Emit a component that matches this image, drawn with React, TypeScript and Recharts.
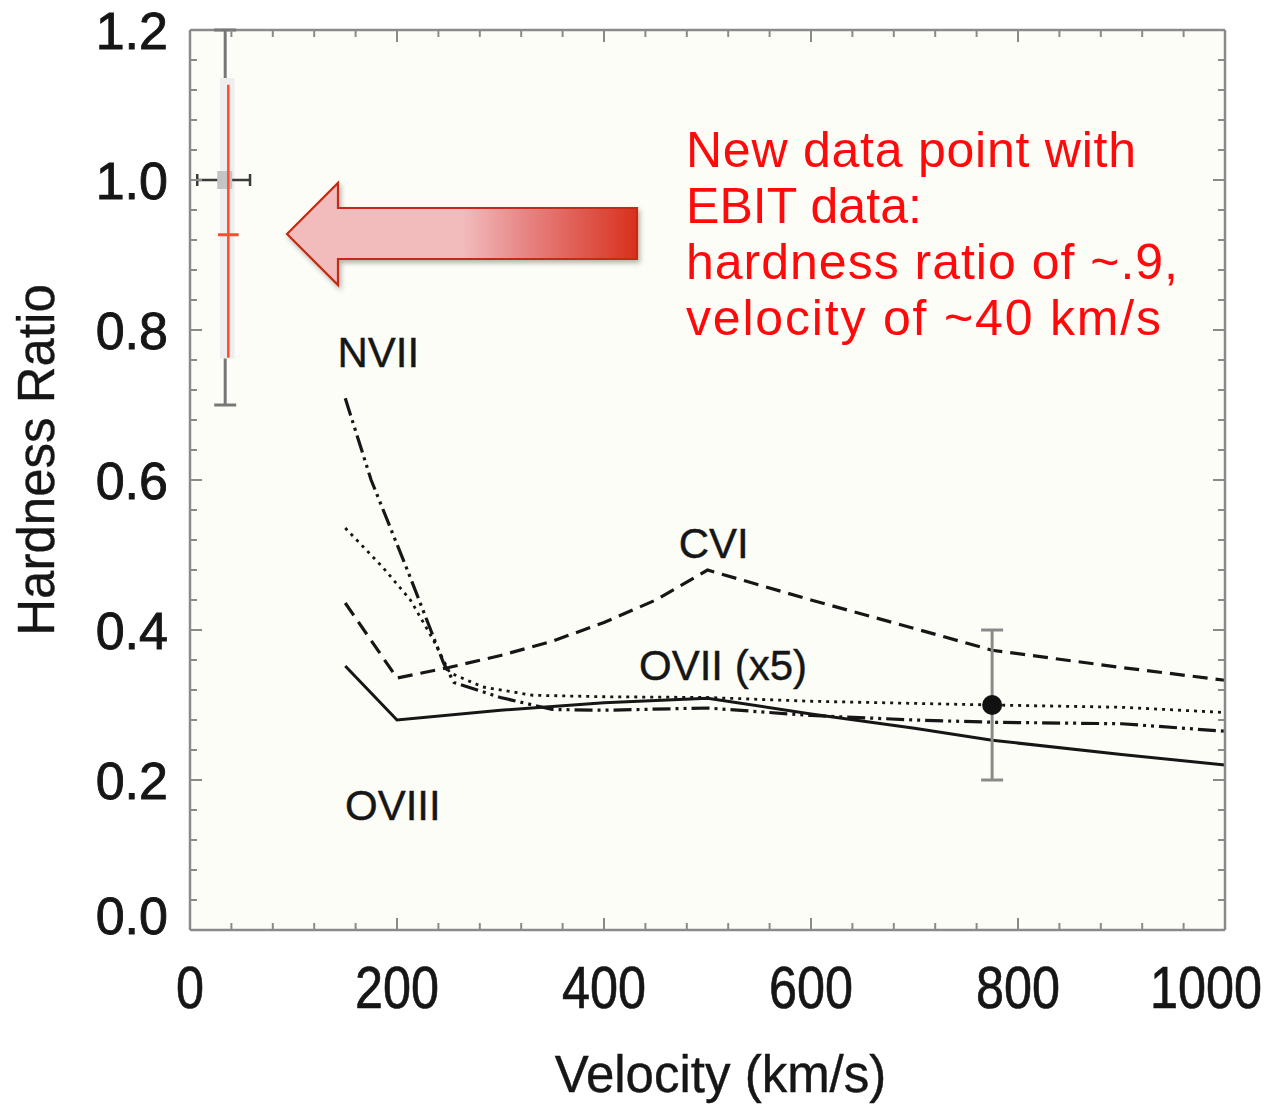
import React from 'react';
import {
  ComposedChart,
  Line,
  Scatter,
  ErrorBar,
  XAxis,
  YAxis,
  ReferenceArea,
  ReferenceDot,
  CartesianGrid,
} from 'recharts';

// ---------- data ----------
const oviii = [
  { v: 150, y: 0.352 }, { v: 200, y: 0.28 }, { v: 300, y: 0.293 }, { v: 400, y: 0.303 },
  { v: 500, y: 0.309 }, { v: 600, y: 0.288 }, { v: 700, y: 0.269 }, { v: 775, y: 0.253 },
  { v: 900, y: 0.234 }, { v: 1000, y: 0.22 },
];
const cvi = [
  { v: 150, y: 0.436 }, { v: 200, y: 0.336 }, { v: 250, y: 0.35 }, { v: 300, y: 0.366 },
  { v: 350, y: 0.385 }, { v: 400, y: 0.41 }, { v: 450, y: 0.44 }, { v: 500, y: 0.48 },
  { v: 600, y: 0.44 }, { v: 700, y: 0.402 }, { v: 775, y: 0.373 }, { v: 900, y: 0.35 },
  { v: 1000, y: 0.333 },
];
const nvii = [
  { v: 150, y: 0.709 }, { v: 175, y: 0.6 }, { v: 210, y: 0.48 }, { v: 245, y: 0.356 },
  { v: 255, y: 0.33 }, { v: 300, y: 0.31 }, { v: 350, y: 0.294 }, { v: 400, y: 0.293 },
  { v: 500, y: 0.296 }, { v: 600, y: 0.286 }, { v: 700, y: 0.28 }, { v: 775, y: 0.277 },
  { v: 900, y: 0.275 }, { v: 1000, y: 0.265 },
];
const ovii = [
  { v: 150, y: 0.536 }, { v: 186, y: 0.484 }, { v: 213, y: 0.44 }, { v: 235, y: 0.387 },
  { v: 251, y: 0.343 }, { v: 283, y: 0.324 }, { v: 331, y: 0.313 }, { v: 400, y: 0.311 },
  { v: 500, y: 0.31 }, { v: 600, y: 0.305 }, { v: 775, y: 0.3 }, { v: 900, y: 0.297 },
  { v: 1000, y: 0.29 },
];
const measured = [{ v: 775, y: 0.3, ey: 0.1 }];
const oldPoint = [{ v: 34, y: 1.0, ey: [0.3, 0.2], ex: [27, 24] }];
const ebitPoint = [{ v: 37, y: 0.927, ey: [0.164, 0.2], ex: [10, 10] }];
const highlight = { x1: 29, x2: 43, y1: 0.762, y2: 1.136 };

const xTicks = [0, 40, 80, 120, 160, 200, 240, 280, 320, 360, 400, 440, 480, 520, 560, 600,
  640, 680, 720, 760, 800, 840, 880, 920, 960, 1000];
const xMajor = [0, 200, 400, 600, 800, 1000];
const xLabels = ['0', '200', '400', '600', '800', '1000'];
const yTicks = [0, 0.04, 0.08, 0.12, 0.16, 0.2, 0.24, 0.28, 0.32, 0.36, 0.4, 0.44, 0.48, 0.52,
  0.56, 0.6, 0.64, 0.68, 0.72, 0.76, 0.8, 0.84, 0.88, 0.92, 0.96, 1.0, 1.04, 1.08, 1.12, 1.16, 1.2];
const yMajor = [0, 0.2, 0.4, 0.6, 0.8, 1.0, 1.2];
const yLabels = ['0.0', '0.2', '0.4', '0.6', '0.8', '1.0', '1.2'];

const seriesLabels = [
  { text: 'NVII', v: 182, y: 0.771 },
  { text: 'CVI', v: 506, y: 0.516 },
  { text: 'OVII (x5)', v: 515, y: 0.353 },
  { text: 'OVIII', v: 196, y: 0.167 },
];
const noteLines = [
  { text: 'New data point with', width: 450 },
  { text: 'EBIT data:', width: 236 },
  { text: 'hardness ratio of ~.9,', width: 492 },
  { text: 'velocity of ~40 km/s', width: 475 },
];

// ---------- styles ----------
const FONT = '"Liberation Sans", Arial, Helvetica, sans-serif';
const FRAME = '#8a8a8a';
const INK = '#161616';
const z = (n: number) => ({ zIndex: n } as any);

const majorIndex = (v: number, majors: number[]) =>
  majors.findIndex((m) => Math.abs(m - v) < 1e-6);

const BottomTick = (props: any) => {
  const { x, y, payload } = props;
  const idx = majorIndex(payload.value, xMajor);
  const major = idx >= 0;
  const dx = payload.value === 1000 ? -19 : 0;
  return (
    <g>
      <line x1={x} y1={y} x2={x} y2={y - (major ? 12 : 7)} stroke={FRAME} strokeWidth={2} />
      {major && (
        <g transform={`translate(${x + dx},${y + 78}) scale(0.84,1)`}>
          <text textAnchor="middle" fontSize={60} fontFamily={FONT} fill={INK}
            stroke={INK} strokeWidth={0.7}>
            {xLabels[idx]}
          </text>
        </g>
      )}
    </g>
  );
};

const TopTick = (props: any) => {
  const { x, y, payload } = props;
  const major = majorIndex(payload.value, xMajor) >= 0;
  return <line x1={x} y1={y} x2={x} y2={y + (major ? 12 : 7)} stroke={FRAME} strokeWidth={2} />;
};

const LeftTick = (props: any) => {
  const { x, y, payload } = props;
  const idx = majorIndex(payload.value, yMajor);
  const major = idx >= 0;
  const dy = payload.value === 0 ? -15 : 0;
  return (
    <g>
      <line x1={x} y1={y} x2={x + (major ? 12 : 7)} y2={y} stroke={FRAME} strokeWidth={2} />
      {major && (
        <text x={x - 22} y={y + dy + 19} textAnchor="end" fontSize={52} fontFamily={FONT} fill={INK}
          stroke={INK} strokeWidth={0.9}>
          {yLabels[idx]}
        </text>
      )}
    </g>
  );
};

const RightTick = (props: any) => {
  const { x, y, payload } = props;
  const major = majorIndex(payload.value, yMajor) >= 0;
  return <line x1={x} y1={y} x2={x - (major ? 12 : 7)} y2={y} stroke={FRAME} strokeWidth={2} />;
};

const XTitle = (props: any) => {
  const vb = props.viewBox || { x: 190, y: 930, width: 1035, height: 174 };
  return (
    <text x={vb.x + vb.width / 2 + 13} y={1092} textAnchor="middle" fontSize={51} fontFamily={FONT} fill={INK}
      stroke={INK} strokeWidth={0.4}>
      Velocity (km/s)
    </text>
  );
};

const YTitle = (props: any) => {
  const vb = props.viewBox || { x: 0, y: 30, width: 190, height: 900 };
  const cy = vb.y + vb.height / 2 - 20;
  return (
    <text
      x={54}
      y={cy}
      transform={`rotate(-90, 54, ${cy})`}
      textAnchor="middle"
      fontSize={51}
      fontFamily={FONT}
      fill={INK}
      stroke={INK}
      strokeWidth={0.4}
    >
      Hardness Ratio
    </text>
  );
};

const BlackDot = (p: any) => <circle cx={p.cx} cy={p.cy} r={10} fill="#111" />;
const GrayBox = (p: any) => (
  <rect x={p.cx - 8} y={p.cy - 9} width={15} height={18} fill="#c4c4c4" />
);
const NoShape = () => <g />;

const SeriesLabel = (props: any) => {
  const { viewBox, value } = props;
  const cx = viewBox ? viewBox.x + (viewBox.width || 0) / 2 : 0;
  const cy = viewBox ? viewBox.y + (viewBox.height || 0) / 2 : 0;
  return (
    <text x={cx} y={cy + 15} textAnchor="middle" fontSize={42} fontFamily={FONT} fill={INK}
      stroke={INK} strokeWidth={0.4}>
      {value}
    </text>
  );
};

const Annotation = () => (
  <svg
    width={1268}
    height={1104}
    style={{ position: 'absolute', left: 0, top: 0, pointerEvents: 'none' }}
  >
    <defs>
      <linearGradient id="arrowFill" x1="287" y1="0" x2="637" y2="0" gradientUnits="userSpaceOnUse">
        <stop offset="0" stopColor="#f2bcbc" />
        <stop offset="0.5" stopColor="#f2bcbc" />
        <stop offset="0.68" stopColor="#e78585" />
        <stop offset="1" stopColor="#d8301c" />
      </linearGradient>
      <filter id="shadow" x="-10%" y="-20%" width="130%" height="150%">
        <feDropShadow dx="2" dy="3" stdDeviation="2.5" floodColor="#000" floodOpacity="0.3" />
      </filter>
    </defs>
    <path
      d="M287,234 L338,183 L338,208 L637,208 L637,259 L338,259 L338,285 Z"
      fill="url(#arrowFill)"
      stroke="#c42a12"
      strokeWidth={2.2}
      strokeLinejoin="miter"
      filter="url(#shadow)"
    />
    {noteLines.map((t, i) => (
      <text key={i} x={686} y={167 + i * 56} fontSize={50} fontFamily={FONT} fill="#ff0a0a"
        textLength={t.width} lengthAdjust="spacing">
        {t.text}
      </text>
    ))}
  </svg>
);

export default function App() {
  return (
    <div style={{ position: 'absolute', left: 0, top: 0, width: 1268, height: 1104, background: '#fff' }}>
      <ComposedChart width={1268} height={1104} margin={{ top: 29, right: 42, bottom: 0, left: 0 }}>
        <CartesianGrid fill="#fdfdf8" horizontal={false} vertical={false} stroke="none" />
        <XAxis
          xAxisId={0}
          dataKey="v"
          type="number"
          domain={[0, 1000]}
          ticks={xTicks}
          interval={0}
          height={174}
          tickSize={0}
          tickMargin={0}
          tick={<BottomTick />}
          axisLine={{ stroke: FRAME, strokeWidth: 2.5 }}
          allowDataOverflow
          label={<XTitle />}
        />
        <XAxis
          xAxisId="top"
          orientation="top"
          dataKey="v"
          type="number"
          domain={[0, 1000]}
          ticks={xTicks}
          interval={0}
          height={1}
          tickSize={0}
          tickMargin={0}
          tick={<TopTick />}
          axisLine={{ stroke: FRAME, strokeWidth: 2.5 }}
          allowDataOverflow
        />
        <YAxis
          yAxisId={0}
          type="number"
          domain={[0, 1.2]}
          ticks={yTicks}
          interval={0}
          width={190}
          tickSize={0}
          tickMargin={0}
          tick={<LeftTick />}
          axisLine={{ stroke: FRAME, strokeWidth: 2.5 }}
          allowDataOverflow
          label={<YTitle />}
        />
        <YAxis
          yAxisId="right"
          orientation="right"
          type="number"
          domain={[0, 1.2]}
          ticks={yTicks}
          interval={0}
          width={1}
          tickSize={0}
          tickMargin={0}
          tick={<RightTick />}
          axisLine={{ stroke: FRAME, strokeWidth: 2.5 }}
          allowDataOverflow
        />

        {/* invisible series bound to the top/right frame axes so they render */}
        <Line data={oviii} dataKey="y" xAxisId="top" yAxisId="right" stroke="none" dot={false}
          activeDot={false} isAnimationActive={false} legendType="none" />

        <Line data={cvi} dataKey="y" type="linear" stroke={INK} strokeWidth={3.2}
          strokeDasharray="15 8" dot={false} isAnimationActive={false} />
        <Line data={nvii} dataKey="y" type="linear" stroke={INK} strokeWidth={3.2}
          strokeDasharray="18 5 3 5 3 5" dot={false} isAnimationActive={false} />
        <Line data={ovii} dataKey="y" type="linear" stroke={INK} strokeWidth={2.8}
          strokeDasharray="3 5" dot={false} isAnimationActive={false} />
        <Line data={oviii} dataKey="y" type="linear" stroke={INK} strokeWidth={3}
          dot={false} isAnimationActive={false} />

        <Scatter data={oldPoint} dataKey="y" shape={GrayBox} isAnimationActive={false} {...z(750)}>
          <ErrorBar dataKey="ey" direction="y" width={11} stroke="#777" strokeWidth={3} isAnimationActive={false} {...z(500)} />
          <ErrorBar dataKey="ex" direction="x" width={6} stroke="#3a3a3a" strokeWidth={2.5} isAnimationActive={false} {...z(740)} />
        </Scatter>
        <ReferenceArea x1={highlight.x1} x2={highlight.x2} y1={highlight.y1} y2={highlight.y2}
          fill="#eeeeee" fillOpacity={1} stroke="none" {...z(700)} />
        <Scatter data={ebitPoint} dataKey="y" shape={NoShape} isAnimationActive={false} {...z(800)}>
          <ErrorBar dataKey="ey" direction="y" width={0} stroke="#ff4a30" strokeWidth={2.5} isAnimationActive={false} {...z(800)} />
          <ErrorBar dataKey="ex" direction="x" width={0} stroke="#ff4a30" strokeWidth={3} isAnimationActive={false} {...z(800)} />
        </Scatter>
        <Scatter data={measured} dataKey="y" shape={BlackDot} isAnimationActive={false}>
          <ErrorBar dataKey="ey" direction="y" width={11} stroke="#8a8a8a" strokeWidth={3} isAnimationActive={false} />
        </Scatter>

        {seriesLabels.map((l) => (
          <ReferenceDot key={l.text} x={l.v} y={l.y} r={0} stroke="none" fill="none"
            label={<SeriesLabel value={l.text} />} />
        ))}
      </ComposedChart>
      <Annotation />
    </div>
  );
}
